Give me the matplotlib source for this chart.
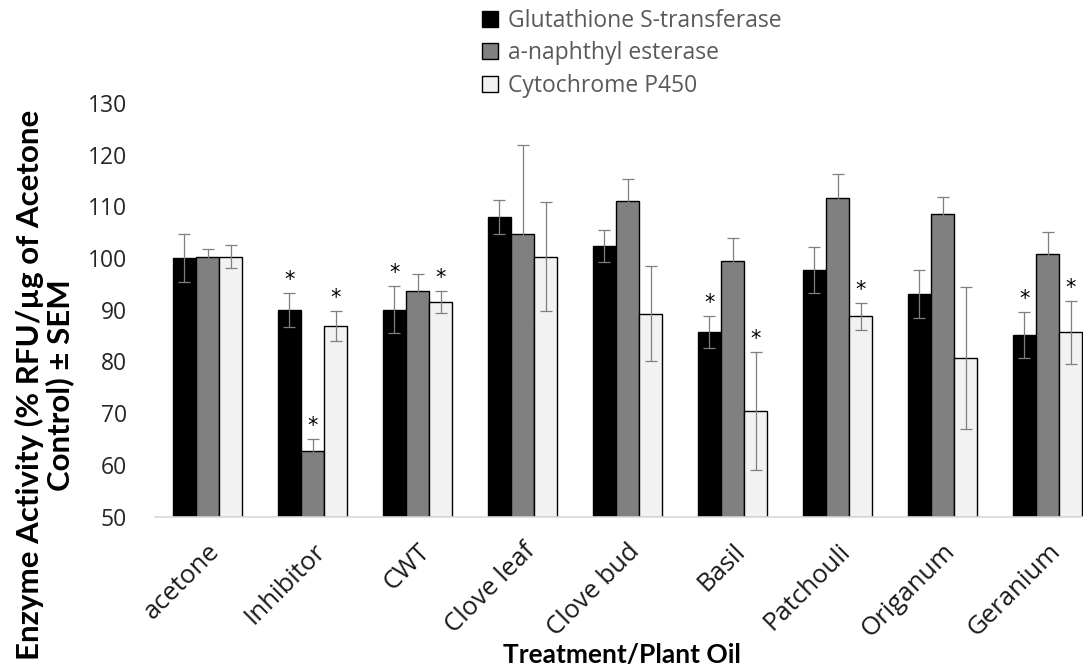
import numpy as np
import matplotlib
matplotlib.use("Agg")
import matplotlib.pyplot as plt

# values (% of acetone control)
categories = ["acetone", "Inhibitor", "CWT", "Clove leaf", "Clove bud",
              "Basil", "Patchouli", "Origanum", "Geranium"]
series_names = ["Glutathione S-transferase", "a-naphthyl esterase", "Cytochrome P450"]

gst = [100.0, 90.0, 90.0, 108.0, 102.4, 85.7, 97.7, 93.1, 85.1]
gst_err = [4.6, 3.3, 4.5, 3.3, 3.1, 3.1, 4.5, 4.6, 4.5]
gst_sig = [False, True, True, False, False, True, False, False, True]

nae = [100.2, 62.7, 93.6, 104.7, 111.1, 99.4, 111.6, 108.5, 100.7]
nae_err = [1.5, 2.3, 3.4, 17.1, 4.2, 4.5, 4.7, 3.3, 4.3]
nae_sig = [False, True, False, False, False, False, False, False, False]

p450 = [100.3, 86.8, 91.5, 100.3, 89.2, 70.4, 88.7, 80.7, 85.6]
p450_err = [2.3, 2.9, 2.2, 10.6, 9.2, 11.5, 2.6, 13.7, 6.0]
p450_sig = [False, True, True, False, False, True, True, False, True]

colors = ["#000000", "#808080", "#f2f2f2"]

W, H = 1083, 668
fig = plt.figure(figsize=(W / 100, H / 100), dpi=100)
# plot area runs past the right edge, as in the cropped original
ax = fig.add_axes([155 / W, 1 - 516.5 / H, 945 / W, 413.5 / H])

x = np.arange(len(categories))
bw = 0.222
data = [(gst, gst_err, gst_sig), (nae, nae_err, nae_sig), (p450, p450_err, p450_sig)]
for i, (vals, errs, sig) in enumerate(data):
    xs = x + (i - 1) * bw
    ax.bar(xs, np.array(vals) - 50, bottom=50, width=bw, color=colors[i],
           edgecolor="black", linewidth=1.0, label=series_names[i], zorder=2)
    ax.errorbar(xs, vals, yerr=errs, fmt="none", ecolor="#7f7f7f",
                elinewidth=0.9, capsize=4, capthick=0.9, zorder=3)
    for xi, v, e, s in zip(xs, vals, errs, sig):
        if s:
            ax.text(xi, v + e + 0.6, "*", ha="center", va="bottom",
                    fontsize=15, family="DejaVu Sans", color="black")

ax.set_xlim(-0.5, len(categories) - 0.5)
ax.set_ylim(50, 130)
ax.set_yticks(np.arange(50, 131, 10))
for s in ["top", "right", "left"]:
    ax.spines[s].set_visible(False)
ax.spines["bottom"].set_color("#d9d9d9")
ax.spines["bottom"].set_linewidth(1.2)
ax.tick_params(axis="y", length=0, pad=20, labelsize=16.5, labelcolor="#262626")
ax.tick_params(axis="x", length=0, pad=16)
ax.set_xticks(x)
ax.set_xticklabels(categories, rotation=45, ha="right", rotation_mode="anchor",
                   fontsize=18.5, color="#1a1a1a")
for lab in ax.get_yticklabels() + ax.get_xticklabels():
    lab.set_family("Open Sans")

leg = fig.legend(loc="upper left", bbox_to_anchor=(469 / W, 1 + 4 / H), frameon=False,
                 handlelength=0.7, handleheight=0.7, handletextpad=0.45,
                 labelspacing=0.37, borderpad=0.05,
                 prop={"family": "Open Sans", "size": 16.5})
for t in leg.get_texts():
    t.set_color("#595959")

fig.text(45 / W, 1 - 385 / H, "Enzyme Activity (% RFU/\u00b5g of Acetone\nControl) \u00b1 SEM",
         rotation=90, ha="center", va="center", multialignment="center",
         fontsize=22.5, fontweight="bold", family="Lato", linespacing=1.05)
fig.text(622 / W, 1 - 655 / H, "Treatment/Plant Oil", ha="center", va="center",
         fontsize=19, fontweight="bold", family=["DejaVu Sans Condensed", "Lato"])

fig.savefig("out.png", dpi=100)
